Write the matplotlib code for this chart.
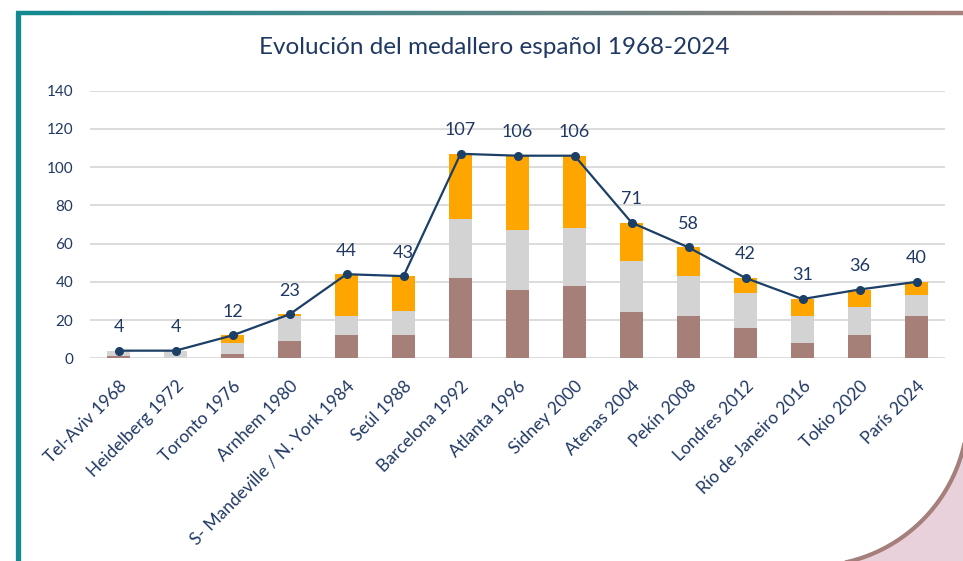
import matplotlib
matplotlib.use('Agg')
import matplotlib.pyplot as plt
import numpy as np
from matplotlib.collections import LineCollection
from matplotlib.patches import Polygon

sedes = ['Tel-Aviv 1968', 'Heidelberg 1972', 'Toronto 1976', 'Arnhem 1980',
         'S- Mandeville / N. York 1984', 'Seúl 1988', 'Barcelona 1992',
         'Atlanta 1996', 'Sidney 2000', 'Atenas 2004', 'Pekín 2008',
         'Londres 2012', 'Río de Janeiro 2016', 'Tokio 2020', 'París 2024']
bronce = [1, 0, 2, 9, 12, 12, 42, 36, 38, 24, 22, 16, 8, 12, 22]
plata = [3, 4, 6, 13, 10, 13, 31, 31, 30, 27, 21, 18, 14, 15, 11]
oro = [0, 0, 4, 1, 22, 18, 34, 39, 38, 20, 15, 8, 9, 9, 7]
total = [4, 4, 12, 23, 44, 43, 107, 106, 106, 71, 58, 42, 31, 36, 40]

azul = '#203864'
plt.rcParams['font.family'] = ['Lato', 'DejaVu Sans']

fig = plt.figure(figsize=(9.63, 5.61), dpi=100)

# marco de la diapositiva (coordenadas en pixeles)
bg = fig.add_axes([0, 0, 1, 1], zorder=0)
bg.set_xlim(0, 963)
bg.set_ylim(561, 0)
bg.axis('off')
bg.plot([18, 18], [12, 561], color='#138A92', lw=3.8, solid_capstyle='butt')
xs = np.linspace(16, 963, 200)
segs = [[(xs[i], 13), (xs[i + 1], 13)] for i in range(len(xs) - 1)]
c1 = np.array([0.07, 0.54, 0.57])
c2 = np.array([0.65, 0.50, 0.48])
cols = [c1 + (c2 - c1) * t for t in np.linspace(0, 1, len(segs))]
bg.add_collection(LineCollection(segs, colors=cols, linewidths=3.2))
cx, cy, r = 812, 410, 156
ang = np.radians(np.linspace(0, 85, 100))
arc = np.column_stack([cx + r * np.cos(ang), cy + r * np.sin(ang)])
bg.add_patch(Polygon(np.vstack([arc, [[1000, 600], [1000, 380]]]), closed=True,
                     facecolor='#E8D1DA', edgecolor='none'))
bg.plot(arc[:, 0], arc[:, 1], color='#A57F7B', lw=3)

ax = fig.add_axes([0.0935, 0.3613, 0.8879, 0.477], zorder=1)
ax.set_facecolor('none')
x = np.arange(len(sedes))
b = np.array(bronce)
p = np.array(plata)
ax.bar(x, bronce, 0.4, color='#A67F78', zorder=2)
ax.bar(x, plata, 0.4, bottom=b, color='#D3D3D3', zorder=2)
ax.bar(x, oro, 0.4, bottom=b + p, color='#FFA500', zorder=2)
ax.plot(x, total, color='#1B3F66', lw=1.6, marker='o', ms=5.5, zorder=3)
for i, t in enumerate(total):
    ax.annotate(str(t), (i, t), xytext=(0, 17), textcoords='offset points',
                ha='center', va='center', fontsize=13, color=azul)

ax.set_xlim(-0.5, len(sedes) - 0.5)
ax.set_ylim(0, 140)
ax.set_yticks(range(0, 141, 20))
ax.yaxis.grid(True, color='#D9D9D9', lw=1.3)
ax.set_axisbelow(True)
for s in ax.spines.values():
    s.set_visible(False)
ax.tick_params(length=0, labelsize=11, colors=azul)
ax.tick_params(axis='y', pad=12)
ax.tick_params(axis='x', pad=14, labelsize=12.5)
ax.set_xticks(x)
ax.set_xticklabels(sedes, rotation=45, ha='right', rotation_mode='anchor')

fig.text(494 / 963, 1 - 47 / 561, 'Evolución del medallero español 1968-2024',
         ha='center', va='center', fontsize=17.5, color=azul)

fig.savefig('out.png', dpi=100)
